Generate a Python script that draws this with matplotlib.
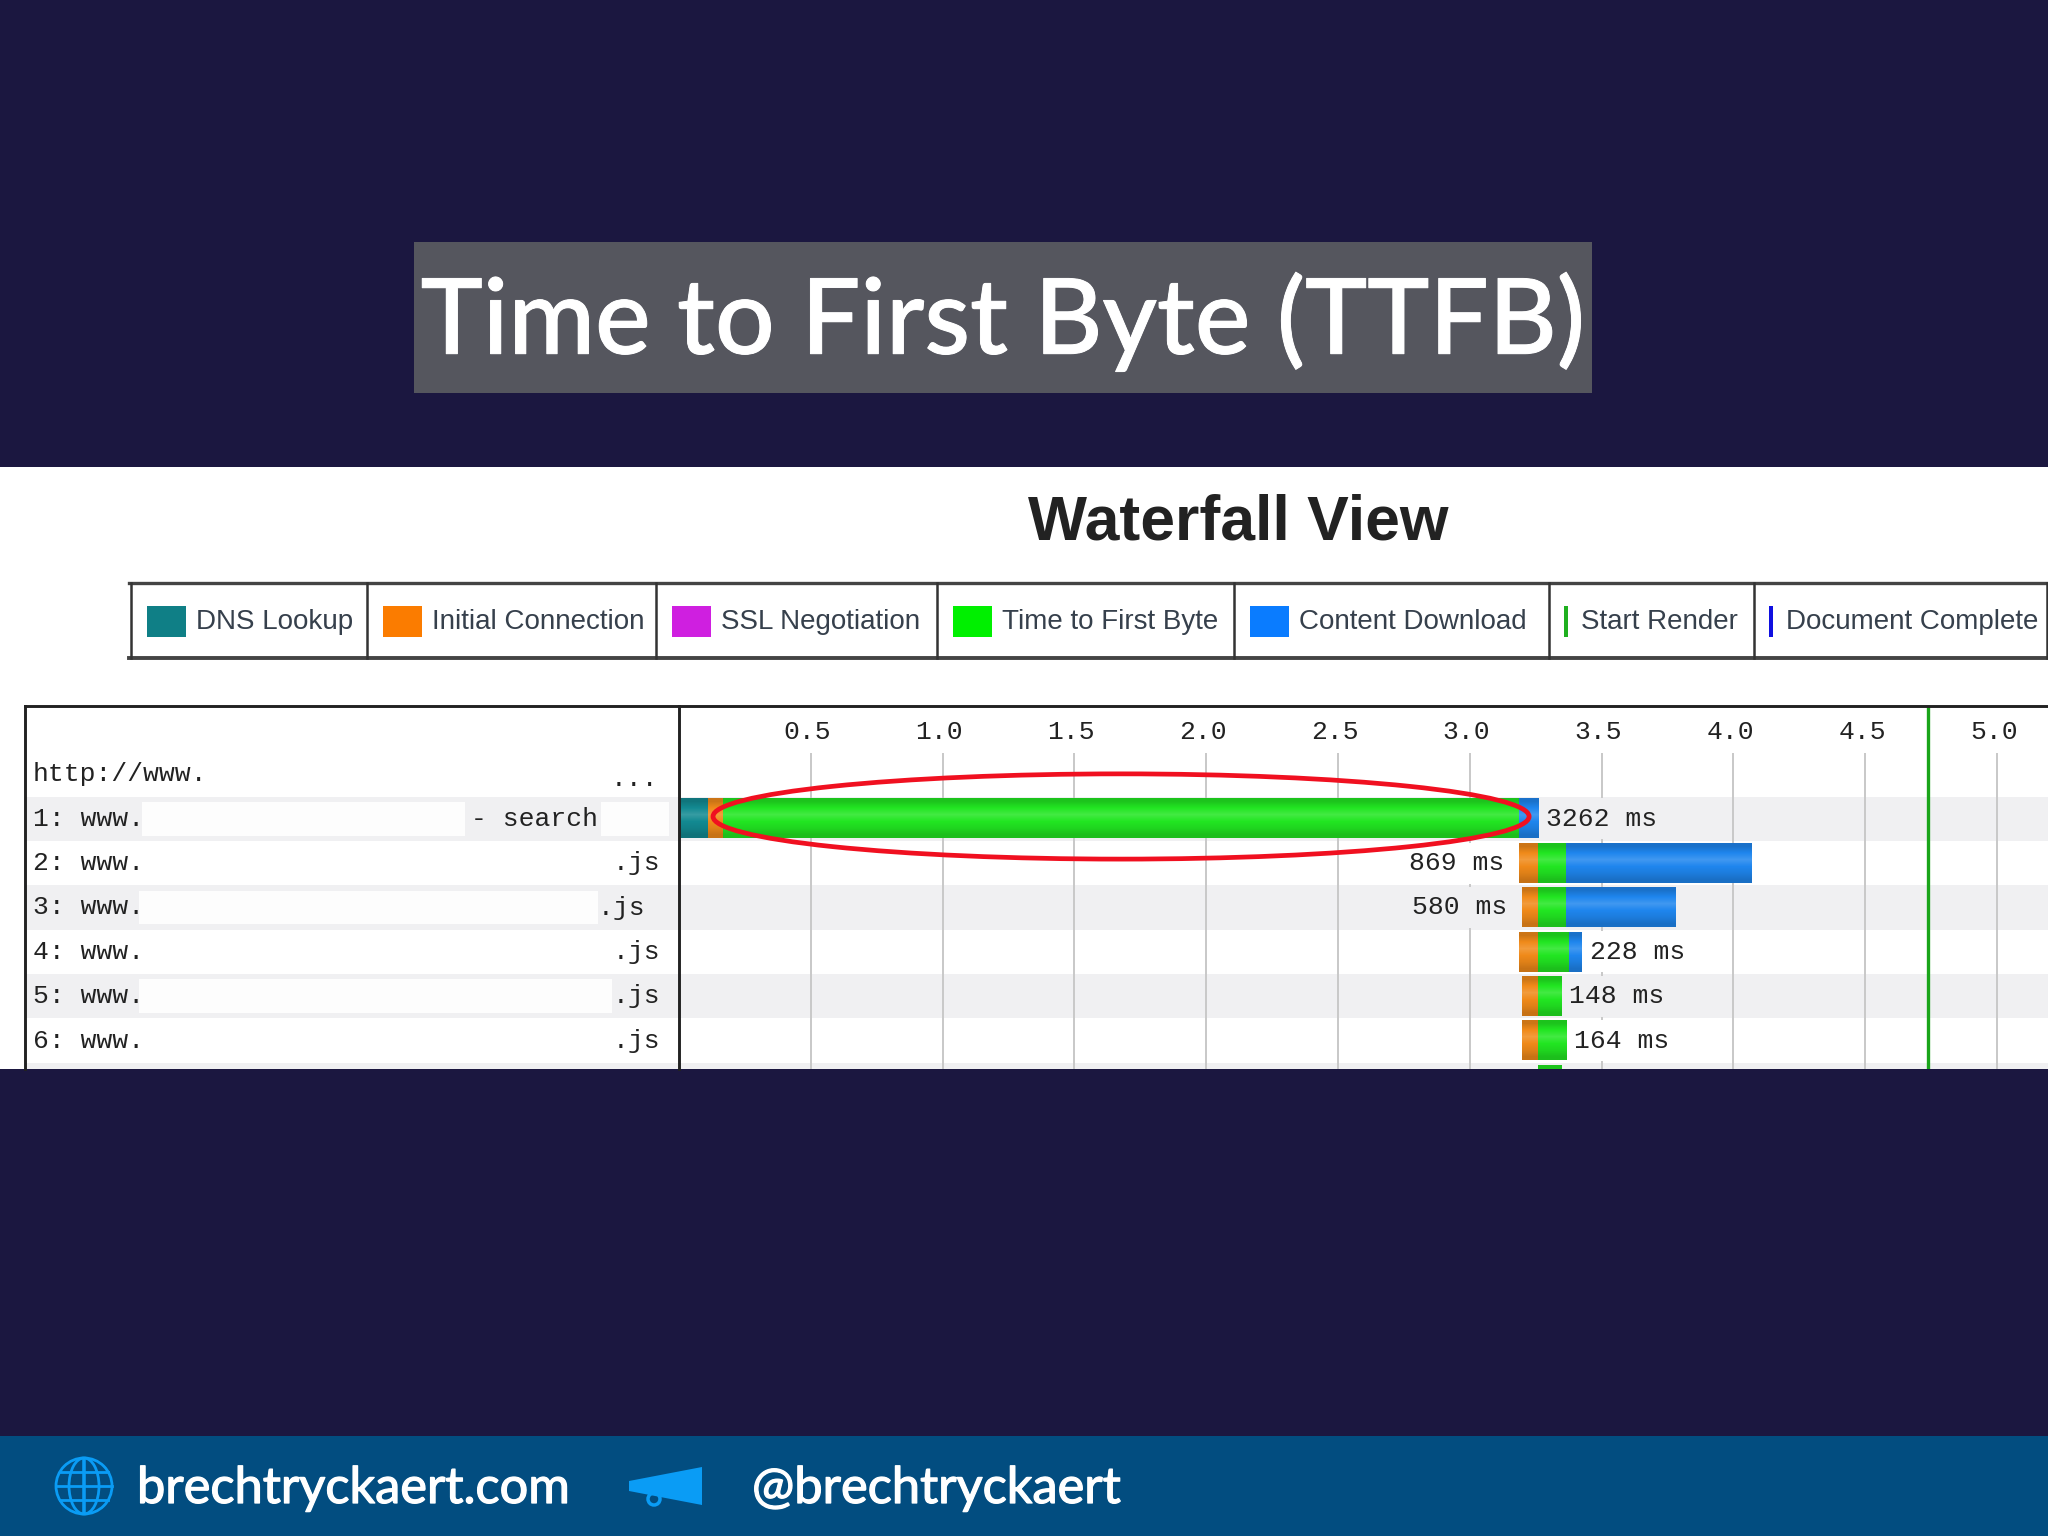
import matplotlib
matplotlib.use('Agg')
import matplotlib.pyplot as plt
import matplotlib.patheffects as pe
from matplotlib.lines import Line2D
from matplotlib.patches import Rectangle, Ellipse, Polygon, Circle
import numpy as np

# waterfall data, seconds
ticks = [0.5, 1.0, 1.5, 2.0, 2.5, 3.0, 3.5, 4.0, 4.5, 5.0]
rows = [1, 2, 3, 4, 5, 6, 7]
dns_end = [0.109, 0, 0, 0, 0, 0, 0]
starts = [0.109, 3.187, 3.198, 3.187, 3.198, 3.198, 3.259]
connect_end = [0.166, 3.259, 3.259, 3.259, 3.259, 3.259, 3.259]
ttfb_end = [3.187, 3.366, 3.366, 3.378, 3.348, 3.366, 3.348]
download_end = [3.26, 4.07, 3.78, 3.427, 3.348, 3.366, 3.348]
durations = ['3262 ms', '869 ms', '580 ms', '228 ms', '148 ms', '164 ms']
label_left = [False, True, True, False, False, False]
start_render = 4.738

url_left = ['1: www.', '2: www.', '3: www.', '4: www.', '5: www.', '6: www.']
url_right = ['- search', '.js', '.js', '.js', '.js', '.js']
url_right_end = [598, 660, 645, 660, 660, 660]

legend_names = ['DNS Lookup', 'Initial Connection', 'SSL Negotiation', 'Time to First Byte',
                'Content Download', 'Start Render', 'Document Complete']
legend_colors = ['#0f7f86', '#fb7c00', '#cf1fe0', '#00f000', '#0a7cff', '#1fb01f', '#1010e0']

BG = '#1b1740'
MONO = 'Liberation Mono'
SANS = 'Liberation Sans'
W, H = 2048, 1536
PANEL_TOP, PANEL_BOTTOM = 467, 1069
FRAME_TOP = 706


def gradient_bar(ax, x0, x1, y, color, height=0.89):
    if x1 <= x0:
        return
    base = np.array(matplotlib.colors.to_rgb(color))
    stops = [0.80, 0.95, 1.0, 0.95, 0.88, 0.78]
    shade = []
    for s in stops:
        if s >= 0.95:
            shade.append(base + (1 - base) * (s - 0.95) * 3)
        else:
            shade.append(base * (s + 0.05))
    img = np.clip(np.array(shade), 0, 1)[:, None, :]
    ax.imshow(img, extent=(x0, x1, y + height / 2, y - height / 2), aspect='auto',
              interpolation='bilinear', zorder=5)


fig = plt.figure(figsize=(20.48, 15.36), dpi=100, facecolor=BG)

# page in pixel coordinates
page = fig.add_axes([0, 0, 1, 1])
page.set_xlim(0, W)
page.set_ylim(H, 0)
page.axis('off')

page.add_patch(Rectangle((414, 242), 1178, 151, color='#55565e', lw=0))
page.text(1003, 322, 'Time to First Byte (TTFB)', color='white', fontsize=75.5, family='Lato',
          fontweight='medium', ha='center', va='center',
          path_effects=[pe.withStroke(linewidth=0.7, foreground='white')])

page.add_patch(Rectangle((0, PANEL_TOP), W, PANEL_BOTTOM - PANEL_TOP, color='white', lw=0))
page.text(1238, 523, 'Waterfall View', color='#222222', fontsize=45, family=SANS,
          fontweight='bold', ha='center', va='center')

# legend strip
edges = [131, 367, 656, 937, 1234, 1549, 1754, 2047]
page.plot([129, W], [583, 583], color='#444444', lw=2.4)
page.plot([129, W], [658, 658], color='#444444', lw=2.8)
for e in edges:
    page.plot([e, e], [583, 658], color='#333333', lw=1.8)
for i, name in enumerate(legend_names):
    x = edges[i] + 16
    if i < 5:
        page.add_patch(Rectangle((x, 606), 39, 31, color=legend_colors[i], lw=0))
        tx = x + 49
    else:
        page.add_patch(Rectangle((x - 1, 606), 3.5, 31, color=legend_colors[i], lw=0))
        tx = x + 16
    page.text(tx, 622, name, color='#36404c', fontsize=20, family=SANS, ha='left', va='center')

# footer
page.add_patch(Rectangle((0, 1436), W, 100, color='#024d80', lw=0))
globe = '#0a9cf5'
for wd in [56, 30, 0.1]:
    page.add_patch(Ellipse((84, 1486), wd, 56, fill=False, ec=globe, lw=2))
page.plot([56, 112], [1486, 1486], color=globe, lw=2)
page.plot([60, 108], [1472, 1472], color=globe, lw=2)
page.plot([60, 108], [1500, 1500], color=globe, lw=2)
page.add_patch(Polygon([(629, 1481), (629, 1491), (702, 1505), (702, 1467)], color=globe, lw=0))
page.add_patch(Circle((654, 1499), 6, fill=False, ec=globe, lw=2.5))
footer_stroke = [pe.withStroke(linewidth=0.9, foreground='white')]
page.text(137, 1489, 'brechtryckaert.com', color='white', fontsize=36.4, family='Lato',
          ha='left', va='center', path_effects=footer_stroke)
page.text(752, 1489, '@brechtryckaert', color='white', fontsize=36.4, family='Lato',
          ha='left', va='center', path_effects=footer_stroke)

# chart axes
y_top = 1 + (FRAME_TOP - 818.7) / 44.4
y_bottom = 1 + (PANEL_BOTTOM - 818.7) / 44.4
chart = fig.add_axes([679 / W, 1 - PANEL_BOTTOM / H, (W - 679) / W, (PANEL_BOTTOM - FRAME_TOP) / H])
names = fig.add_axes([25 / W, 1 - PANEL_BOTTOM / H, (679 - 25) / W, (PANEL_BOTTOM - FRAME_TOP) / H])
names.set_xlim(25, 679)
for a in (chart, names):
    a.set_facecolor('none')
    a.axis('off')
    for r in rows[::2]:
        a.axhspan(r - 0.5, r + 0.5, color='#f0f0f2', lw=0, zorder=0)

chart.vlines(ticks, -0.49, y_bottom, color='#c8c8c8', lw=1.4, zorder=1)
for t in ticks:
    chart.text(t - 0.012, -0.95, f'{t:.1f}', family=MONO, fontsize=19, color='#222222',
               ha='center', va='center')

for i, r in enumerate(rows):
    gradient_bar(chart, 0, dns_end[i], r, '#138a92')
    gradient_bar(chart, starts[i], connect_end[i], r, '#f08a1a')
    gradient_bar(chart, connect_end[i], ttfb_end[i], r, '#22e622')
    gradient_bar(chart, ttfb_end[i], download_end[i], r, '#1f86ee')

for i, text in enumerate(durations):
    r = rows[i]
    back = '#f0f0f2' if r % 2 else 'white'
    if label_left[i]:
        x, ha = starts[i] - 0.057, 'right'
    else:
        x, ha = download_end[i] + 0.03, 'left'
    chart.text(x, r, text, family=MONO, fontsize=19, color='#222222', ha=ha, va='center',
               zorder=4, bbox=dict(facecolor=back, edgecolor='none', pad=6))

chart.vlines(start_render, y_top, y_bottom, color='#1aa51a', lw=2.4, zorder=6)
chart.add_patch(Ellipse((1.677, 0.95), 3.096, 1.92, fill=False, ec='#f01020', lw=3.4, zorder=7))

# request names, parts of the url are blanked out
names.text(33, 0, 'http://www.', family=MONO, fontsize=19, color='#222222', ha='left', va='center')
names.text(658, 0.1, '...', family=MONO, fontsize=19, color='#222222', ha='right', va='center')
blanks = [(1, 142, 465), (1, 601, 669), (3, 139, 598), (5, 139, 612)]
for r, x0, x1 in blanks:
    names.add_patch(Rectangle((x0, r - 0.38), x1 - x0, 0.76, color='#fdfdfd', lw=0, zorder=1))
for i in range(len(url_left)):
    r = rows[i]
    names.text(33, r, url_left[i], family=MONO, fontsize=19, color='#222222', ha='left', va='center', zorder=2)
    names.text(url_right_end[i], r, url_right[i], family=MONO, fontsize=19, color='#222222',
               ha='right', va='center', zorder=2)

chart.set_xlim(0, (W - 679) / 263.6)
for a in (chart, names):
    a.set_ylim(y_bottom, y_top)

page.set_zorder(0)
names.set_zorder(1)
chart.set_zorder(2)

# chart frame sits above the stripes of both axes
frame_lines = [([25, W], [FRAME_TOP, FRAME_TOP]), ([25, 25], [FRAME_TOP, PANEL_BOTTOM]),
               ([679, 679], [FRAME_TOP, PANEL_BOTTOM])]
for xs, ys in frame_lines:
    fig.add_artist(Line2D(xs, ys, transform=page.transData, color='#222222', lw=2.1, zorder=10))

fig.savefig('out.png', dpi=100, facecolor=BG)
